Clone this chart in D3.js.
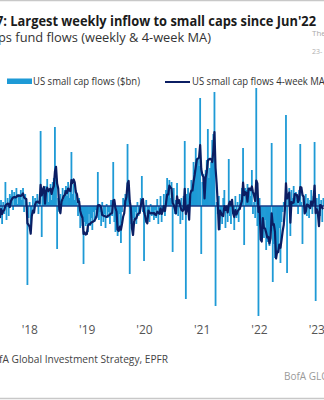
<!DOCTYPE html>
<html>
<head>
<meta charset="utf-8">
<script src="https://cdn.jsdelivr.net/npm/d3@7"></script>
<style>
  body { margin: 0; background: #fff; }
  svg { display: block; }
  text { font-family: "Open Sans", "Noto Sans", sans-serif; }
</style>
</head>
<body>
<svg id="chart" width="324" height="400"></svg>
<script>
// Weekly US small cap fund flows ($bn), one value per week from the first week below
const firstWeek = "2017-06-28";
const weeklyFlows = [
  -0.6, 0.3, -0.9, 0.2, -0.4, 1.2, -0.7, 0.4, -0.5, 0.6,
  0.5, 0.8, -0.2, 0.7, 0.4, 0.9, 0.1, 0.6, 0.5, 0.8,
  0.3, 0.9, -0.3, 0.6, 0.2, -3.95, -0.6, 0.2, -1.2, -0.4,
  0.5, -0.2, 0.4, 0.1, 0.6, -0.4, 0.3, 3.75, -1.55, 0.7,
  0.9, 0.4, 1.0, 1.35, 0.2, 0.8, 1.1, 0.3, 1.2, 1.4,
  3.95, 1.3, -2.15, 0.4, -0.3, 0.6, 0.2, 0.9, 0.3, 0.8,
  1.0, 0.5, 1.2, 0.4, 0.9, 2.7, 0.6, 1.1, 0.3, 0.8,
  0.2, -0.5, 0.4, -1.1, -0.6, -1.0, -2.9, -0.8, -1.0, -0.9,
  -1.3, -0.4, -1.0, -0.6, -1.2, -0.3, -0.8, -0.2, -0.6, 1.7,
  -0.7, -0.3, -1.0, 0.2, -0.8, -0.4, -1.1, 0.1, -0.6, -0.3,
  -0.9, 0.3, -0.5, 2.2, -0.8, -1.3, -1.2, -1.5, -1.0, -0.4,
  -1.85, -0.3, 0.4, 0.3, 0.6, 0.5, 3.1, 0.8, -3.4, -0.9,
  -0.9, -0.6, -0.7, -0.3, -0.9, 0.2, -0.5, -0.2, 0.4, 1.5,
  -0.3, -2.75, -0.4, 0.3, -0.6, -0.2, -0.8, 0.1, -0.5, -0.3,
  -0.7, -0.2, -0.6, 0.35, -0.9, -0.4, 0.5, -0.8, -0.3, 0.6,
  -0.5, 0.8, 1.4, 0.6, 1.3, 0.4, 1.2, -2.3, 0.9, -0.4,
  0.3, 1.15, -0.5, 0.2, -0.9, 0.4, -0.7, 0.5, 3.25, -4.65,
  0.6, 0.9, 0.4, 0.5, 1.3, 0.9, 2.2, 1.8, 2.9, 2.4,
  2.4, 2.0, 5.4, -2.4, 1.2, 1.6, 1.1, 1.8, 2.3, 3.85,
  1.4, 1.9, 2.2, 3.3, 3.6, 5.7, -5.0, 0.2, -0.4, 0.5,
  -1.2, -0.3, -0.9, 0.4, 0.8, -1.1, -0.2, -0.8, 2.35, -0.5,
  -0.9, 0.3, -0.4, -1.2, 0.5, -0.6, 0.2, -0.8, 0.6, 0.3,
  0.9, 2.9, -1.95, 0.9, 0.8, 1.1, 0.7, 0.9, 0.5, 1.8,
  -0.4, 0.2, -0.6, 5.9, -1.0, -5.5, 0.4, -0.6, -1.4, -0.8,
  -1.6, -0.7, -2.2, -1.8, -1.5, -2.0, -1.1, 3.15, -3.8, -1.9,
  -2.6, -2.2, -2.4, -2.0, -1.1, -2.85, -0.8, -0.3, 0.2, 0.1,
  4.55, -3.35, 0.6, 0.9, -1.5, 0.8, 0.4, 1.0, 0.2, 0.7,
  0.3, -0.4, 0.8, 3.1, 0.2, -1.9, 0.5, -0.3, 0.6, -0.5,
  0.4, -0.6, 0.3, 0.8, -0.4, 0.5, 3.2, -4.75, 0.4, -0.3,
  0.6, -0.5, 0.3, -0.8, 0.4
];
const maWindow = 4;
const tickYears = [2018, 2019, 2020, 2021, 2022, 2023];
const tickLabels = ["'18", "'19", "'20", "'21", "'22", "'23"];

const titleText = "Chart 7: Largest weekly inflow to small caps since Jun'22";
const subtitleText = "US small caps fund flows (weekly & 4-week MA)";
const legendBars = "US small cap flows ($bn)";
const legendLine = "US small cap flows 4-week MA";
const sourceText = "Source: BofA Global Investment Strategy, EPFR";
const brandText = "BofA GLOBAL RESEARCH";

const barColor = "#1e9ad6";
const maColor = "#0b1e63";
const zeroColor = "#173c88";

const svg = d3.select("#chart");
const W = 324, H = 400;

svg.append("rect").attr("width", W).attr("height", H).attr("fill", "#fff");

// frame rules top and bottom
svg.append("line").attr("x1", 0).attr("x2", W).attr("y1", 0.5).attr("y2", 0.5)
  .attr("stroke", "#c8c8c8").attr("stroke-width", 1.5);
svg.append("line").attr("x1", 0).attr("x2", W).attr("y1", 398.5).attr("y2", 398.5)
  .attr("stroke", "#c8c8c8").attr("stroke-width", 1.5);

// squeeze a text so that the part from startIdx onwards has the given width
function fit(sel, startIdx, width) {
  const node = sel.node();
  const full = node.getComputedTextLength();
  const n = node.getNumberOfChars();
  const sub = node.getSubStringLength(startIdx, n - startIdx);
  const k = width / sub;
  sel.attr("textLength", full * k).attr("lengthAdjust", "spacingAndGlyphs");
  return k;
}

// title block
const title = svg.append("text").attr("x", 316).attr("y", 26)
  .attr("text-anchor", "end").attr("font-size", 15).attr("font-weight", 700)
  .attr("fill", "#1b1b1b").text(titleText);
fit(title, titleText.indexOf("7:"), 320);

const subtitle = svg.append("text").attr("x", 211).attr("y", 42)
  .attr("text-anchor", "end").attr("font-size", 12.5)
  .attr("fill", "#333").text(subtitleText);
fit(subtitle, subtitleText.indexOf("ps fund"), 213);

svg.append("text").attr("x", 312).attr("y", 36).attr("font-size", 8)
  .attr("fill", "#aaa").text("The");
svg.append("text").attr("x", 312).attr("y", 54).attr("font-size", 7)
  .attr("fill", "#b0b0b0").text("23-");

// legend
svg.append("rect").attr("x", 7).attr("y", 78.5).attr("width", 25).attr("height", 5.5)
  .attr("fill", barColor);
const lg1 = svg.append("text").attr("x", 33).attr("y", 84.5).attr("font-size", 10)
  .attr("fill", "#333").text(legendBars);
const kLegend = fit(lg1, 0, 107);
svg.append("line").attr("x1", 165).attr("x2", 190).attr("y1", 82).attr("y2", 82)
  .attr("stroke", maColor).attr("stroke-width", 2);
const lg2 = svg.append("text").attr("x", 192).attr("y", 84.5).attr("font-size", 10)
  .attr("fill", "#333").text(legendLine);
lg2.attr("textLength", lg2.node().getComputedTextLength() * kLegend)
  .attr("lengthAdjust", "spacingAndGlyphs");

// scales
const start = d3.utcParse("%Y-%m-%d")(firstWeek);
const weeks = weeklyFlows.map((v, i) => ({
  date: d3.utcDay.offset(start, 7 * i),
  value: v,
  ma: d3.mean(weeklyFlows.slice(Math.max(0, i - maWindow + 1), i + 1))
}));

const x = d3.scaleUtc()
  .domain([new Date(Date.UTC(2018, 0, 1)), new Date(Date.UTC(2023, 0, 1))])
  .range([29.3, 316.3]);
const y = d3.scaleLinear().domain([-6, 6]).range([326, 86]);

// weekly bars
const barW = 1.8;
svg.append("g").selectAll("rect").data(weeks).join("rect")
  .attr("x", d => x(d.date) - barW / 2)
  .attr("width", barW)
  .attr("y", d => Math.min(y(d.value), y(0)))
  .attr("height", d => Math.abs(y(d.value) - y(0)))
  .attr("fill", barColor);

// zero line
svg.append("line").attr("x1", 0).attr("x2", W)
  .attr("y1", y(0)).attr("y2", y(0))
  .attr("stroke", zeroColor).attr("stroke-width", 1.5);

// 4-week moving average
svg.append("path").datum(weeks)
  .attr("fill", "none").attr("stroke", maColor).attr("stroke-width", 2.2)
  .attr("stroke-linejoin", "round")
  .attr("d", d3.line().x(d => x(d.date)).y(d => y(d.ma)));

// x axis labels
const axis = d3.axisBottom(x)
  .tickValues(tickYears.map(yr => new Date(Date.UTC(yr, 0, 1))))
  .tickFormat((d, i) => tickLabels[i])
  .tickSize(0).tickPadding(0);
const gx = svg.append("g").attr("transform", "translate(0,334)").call(axis);
gx.select(".domain").remove();
gx.selectAll("text").attr("y", 0).attr("dy", null)
  .attr("font-size", 12).attr("fill", "#555")
  .style("font-family", "\"Open Sans\", sans-serif");

// source and brand
const src = svg.append("text").attr("x", 168).attr("y", 363)
  .attr("text-anchor", "end").attr("font-size", 11.5).attr("fill", "#444")
  .text(sourceText);
fit(src, sourceText.indexOf("fA "), 169);

svg.append("text").attr("x", 284).attr("y", 380).attr("font-size", 10)
  .attr("fill", "#9a9a9a").text(brandText);
</script>
</body>
</html>
